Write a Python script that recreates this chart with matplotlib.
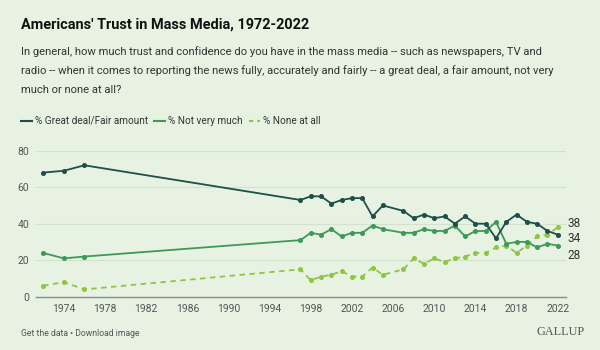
import matplotlib
matplotlib.use("Agg")
import matplotlib.pyplot as plt

years = [1972, 1974, 1976, 1997, 1998, 1999, 2000, 2001, 2002, 2003, 2004, 2005,
         2007, 2008, 2009, 2010, 2011, 2012, 2013, 2014, 2015, 2016, 2017, 2018,
         2019, 2020, 2021, 2022]
great_fair = [68, 69, 72, 53, 55, 55, 51, 53, 54, 54, 44, 50,
              47, 43, 45, 43, 44, 40, 44, 40, 40, 32, 41, 45,
              41, 40, 36, 34]
not_very = [24, 21, 22, 31, 35, 34, 37, 33, 35, 35, 39, 37,
            35, 35, 37, 36, 36, 39, 33, 36, 36, 41, 29, 30,
            30, 27, 29, 28]
none_all = [6, 8, 4, 15, 9, 11, 12, 14, 11, 11, 16, 12,
            15, 21, 18, 21, 19, 21, 22, 24, 24, 27, 28, 24,
            28, 33, 34, 38]
xticks = list(range(1974, 2023, 4))
yticks = [0, 20, 40, 60, 80]
title = "Americans' Trust in Mass Media, 1972-2022"
sub_lines = ["In general, how much trust and confidence do you have in the mass media -- such as newspapers, TV and",
             "radio -- when it comes to reporting the news fully, accurately and fairly -- a great deal, a fair amount, not very",
             "much or none at all?"]
legend_labels = ["% Great deal/Fair amount", "% Not very much", "% None at all"]

BG = "#e7f2e2"
C1 = "#1e4f49"
C2 = "#3c9a57"
C3 = "#8ec640"
FONT = ["Roboto", "DejaVu Sans"]
plt.rcParams["font.family"] = FONT

W, H = 600, 350
fig = plt.figure(figsize=(6, 3.5), dpi=100, facecolor=BG)
fig.canvas.draw()
renderer = fig.canvas.get_renderer()


def fit(t, target_px):
    w = t.get_window_extent(renderer).width
    t.set_fontsize(t.get_fontsize() * target_px / w)
    return t


def px(x, y):
    return x / W, 1 - y / H


ax = fig.add_axes([36 / W, 1 - 296.7 / H, (566 - 36) / W, (296.7 - 150.7) / H])
ax.set_facecolor(BG)

ax.plot(years, great_fair, color=C1, lw=1.3, marker="o", ms=2.6, zorder=4)
ax.plot(years, not_very, color=C2, lw=1.3, marker="o", ms=2.6, zorder=3)
ax.plot(years, none_all, color=C3, lw=1.3, ls=(0, (3, 2.5)), marker="o", ms=2.6, zorder=2)

ax.set_xlim(1971.3, 2022.8)
ax.set_ylim(0, 80)
ax.set_xticks(xticks)
ax.set_yticks(yticks)
ax.tick_params(axis="both", length=0, labelsize=7.5, colors="#555555")
ax.tick_params(axis="x", pad=5)
ax.tick_params(axis="y", pad=5)
ax.grid(axis="y", color="#d3e2cd", lw=0.8)
for s in ["top", "right", "left"]:
    ax.spines[s].set_visible(False)
ax.spines["bottom"].set_color("#8a8a8a")
ax.spines["bottom"].set_linewidth(1.0)

# end labels (nudged apart to avoid overlap)
ends = [(none_all[-1], 3.0), (great_fair[-1], -3.0), (not_very[-1], -6.8)]
for val, off in ends:
    ax.annotate(str(val), xy=(1, val), xycoords=("axes fraction", "data"),
                xytext=(1.0, off), textcoords="offset points", va="center", ha="left",
                fontsize=8.5, color="#333333", annotation_clip=False)

# title and subtitle
t = fig.text(*px(21, 24.5), title, fontsize=10, fontweight="bold", color="#111111", va="center")
fit(t, 289)
sub_size = None
for i, line in enumerate(sub_lines):
    st = fig.text(*px(21, 52 + 19 * i), line, fontsize=8.3, color="#333333", va="center")
    if i == 1:
        fit(st, 536)
        sub_size = st.get_fontsize()
for tt in fig.texts[1:4]:
    if sub_size:
        tt.set_fontsize(sub_size)

# legend
ly = 1 - 121 / H
styles = ["-", "-", (0, (2, 2))]
colors = [C1, C2, C3]
x0 = 21
for lab, col, ls in zip(legend_labels, colors, styles):
    fig.add_artist(plt.Line2D([x0 / W, (x0 + 11) / W], [ly, ly], color=col, lw=1.5, ls=ls,
                              transform=fig.transFigure))
    lt = fig.text((x0 + 14) / W, ly, lab, fontsize=7.5, color="#333333", va="center")
    if lab == legend_labels[0]:
        fit(lt, 113)
        leg_size = lt.get_fontsize()
    else:
        lt.set_fontsize(leg_size)
    bb = lt.get_window_extent(renderer)
    x0 = bb.x1 + 6

ft = fig.text(*px(21, 333), "Get the data \u2022 Download image", fontsize=6.5, color="#555555", va="center")
fit(ft, 118)
gt = fig.text(*px(585, 332), "GALLUP", fontsize=9, color="#555555", va="center", ha="right",
              family=["Liberation Serif", "DejaVu Serif"])
fit(gt, 48)

fig.savefig("out.png", dpi=100, facecolor=BG)
